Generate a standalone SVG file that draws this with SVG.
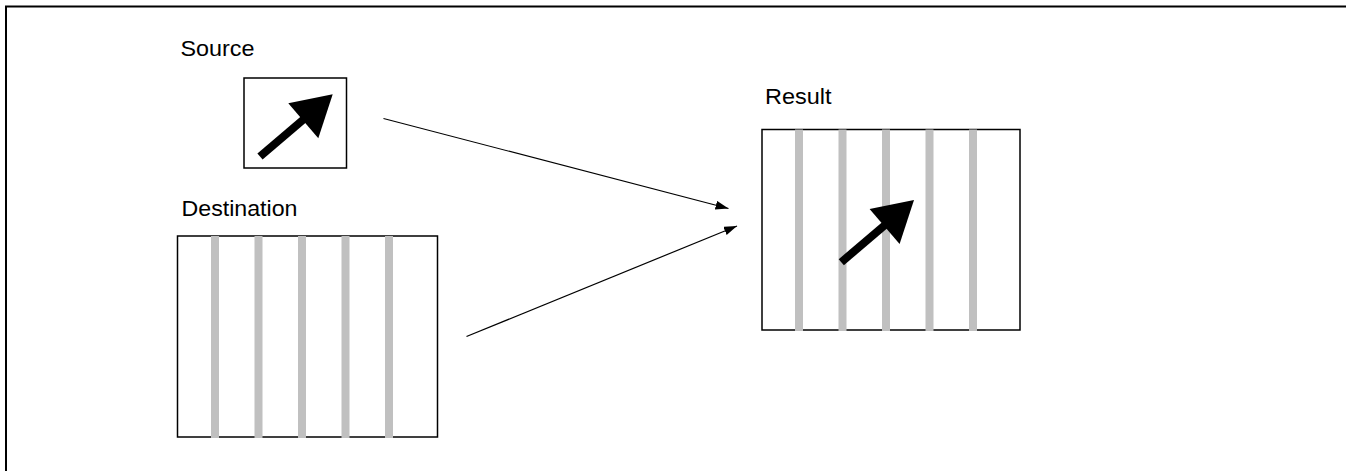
<svg xmlns="http://www.w3.org/2000/svg" xmlns:xlink="http://www.w3.org/1999/xlink" width="1346" height="471" viewBox="0 0 1346 471">
<style>
.lbl{font-family:"Liberation Sans",Arial,sans-serif;font-size:22px;fill:#000}
.box{fill:#fff;stroke:#000;stroke-width:1.5}
.stripe{stroke:#c0c0c0;stroke-width:8}
.conn{stroke:#000;stroke-width:1.2;fill:none}
</style>
<defs>
<marker id="ah" markerUnits="userSpaceOnUse" markerWidth="14" markerHeight="10" refX="13" refY="4.5" orient="auto">
<path d="M0,0 L13,4.5 L0,9 z" fill="#000"/>
</marker>
<g id="bigArrow">
<line x1="260" y1="156.5" x2="304" y2="119" stroke="#000" stroke-width="8"/>
<polygon points="288.3,103.3 332.7,94.3 318.3,138.3" fill="#000"/>
</g>
</defs>
<rect x="6" y="6.5" width="1370" height="490" fill="none" stroke="#000" stroke-width="2"/>
<g id="source">
<text class="lbl" x="180.5" y="56" textLength="74" lengthAdjust="spacingAndGlyphs">Source</text>
<rect class="box" x="244" y="78" width="102.5" height="90"/>
<use xlink:href="#bigArrow"/>
</g>
<g id="destination">
<text class="lbl" x="181.5" y="216" textLength="116" lengthAdjust="spacingAndGlyphs">Destination</text>
<rect class="box" x="177.5" y="236" width="260" height="201"/>
<line class="stripe" x1="215" y1="236" x2="215" y2="438"/>
<line class="stripe" x1="258.5" y1="236" x2="258.5" y2="438"/>
<line class="stripe" x1="302" y1="236" x2="302" y2="438"/>
<line class="stripe" x1="345.5" y1="236" x2="345.5" y2="438"/>
<line class="stripe" x1="389" y1="236" x2="389" y2="438"/>
</g>
<g id="result">
<text class="lbl" x="765" y="103.5" textLength="66.5" lengthAdjust="spacingAndGlyphs">Result</text>
<rect class="box" x="762" y="129.5" width="258" height="200.5"/>
<line class="stripe" x1="799" y1="129.5" x2="799" y2="331"/>
<line class="stripe" x1="842.5" y1="129.5" x2="842.5" y2="331"/>
<line class="stripe" x1="886" y1="129.5" x2="886" y2="331"/>
<line class="stripe" x1="929.5" y1="129.5" x2="929.5" y2="331"/>
<line class="stripe" x1="973" y1="129.5" x2="973" y2="331"/>
<use xlink:href="#bigArrow" transform="translate(581.3,105.7)"/>
</g>
<g id="connectors">
<line class="conn" x1="383.5" y1="118.5" x2="728.5" y2="208.5" marker-end="url(#ah)"/>
<line class="conn" x1="466.5" y1="336.5" x2="737" y2="226" marker-end="url(#ah)"/>
</g>
</svg>
